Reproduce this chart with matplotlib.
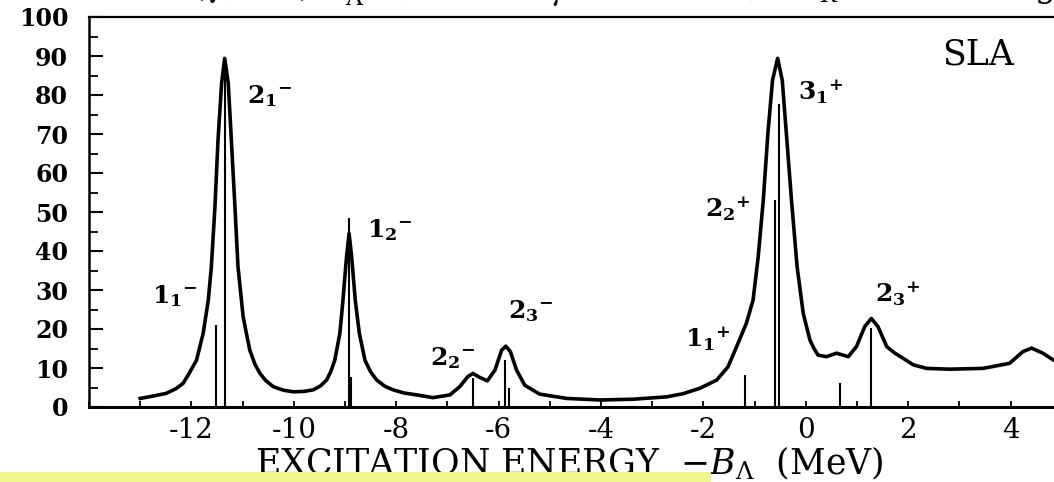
#!/usr/bin/env python3
# -*- coding: utf-8 -*-

import matplotlib
matplotlib.use("Agg")
import matplotlib.pyplot as plt
from matplotlib.patches import Rectangle
from matplotlib.ticker import MultipleLocator, FixedLocator

# --- spectre (MeV, unités arbitraires) ---
energy = [-13.0, -12.75, -12.49, -12.30, -12.16, -12.05, -11.90, -11.77, -11.67,
          -11.61, -11.54, -11.48, -11.41, -11.35, -11.28, -11.22, -11.15, -11.09,
          -10.99, -10.92, -10.86, -10.76, -10.66, -10.55, -10.40, -10.20, -10.01,
          -9.80, -9.62, -9.48, -9.36, -9.28, -9.20, -9.10, -9.04, -8.97, -8.92,
          -8.87, -8.80, -8.72, -8.61, -8.50, -8.38, -8.22, -8.06, -7.85, -7.60,
          -7.28, -6.95, -6.76, -6.60, -6.50, -6.37, -6.22, -6.07, -5.94, -5.86,
          -5.77, -5.65, -5.49, -5.20, -4.67, -4.02, -3.37, -2.72, -2.40, -2.07,
          -1.74, -1.52, -1.35, -1.16, -1.03, -0.93, -0.83, -0.74, -0.65, -0.55,
          -0.46, -0.38, -0.28, -0.17, -0.05, 0.08, 0.16, 0.24, 0.40, 0.60, 0.83,
          0.99, 1.15, 1.28, 1.41, 1.58, 1.74, 1.90, 2.10, 2.36, 2.81, 3.46, 3.98,
          4.24, 4.41, 4.63, 4.84, 5.0]
spectrum = [2.2, 2.8, 3.5, 4.7, 6.1, 8.5, 12.0, 18.9, 27.4,
            36.0, 51.4, 68.5, 83.0, 89.4, 83.0, 68.5, 51.4, 36.0,
            23.2, 18.5, 14.6, 11.0, 8.6, 6.8, 5.2, 4.3, 3.9,
            4.0, 4.4, 5.4, 6.9, 9.0, 12.0, 18.9, 27.4, 38.5, 44.5,
            38.5, 27.4, 18.9, 12.0, 9.0, 6.9, 5.3, 4.4, 3.6, 3.1,
            2.4, 3.1, 5.2, 7.8, 8.6, 7.6, 6.7, 9.5, 14.6, 15.6,
            14.2, 9.5, 5.6, 3.3, 2.2, 1.8, 2.0, 2.6, 3.4, 4.8,
            6.9, 10.3, 15.5, 21.5, 27.4, 38.5, 53.1, 70.2, 83.8, 89.4,
            83.8, 70.2, 53.1, 36.0, 24.0, 17.2, 15.0, 13.3, 12.9, 13.8, 12.9,
            15.5, 20.6, 22.7, 20.6, 15.5, 13.8, 12.5, 10.8, 9.9, 9.7, 9.9, 11.2,
            14.2, 15.1, 13.8, 12.0, 11.5]

# --- raies (états individuels) ---
line_E = [-11.51, -11.35, -8.92, -8.88, -6.50, -5.87, -5.80, -1.19, -0.61, -0.52, 0.66, 1.28]
line_h = [21.0, 86.0, 48.5, 7.7, 7.4, 12.0, 5.0, 8.2, 53.2, 77.7, 6.2, 20.2]

# --- graduations x étiquetées ---
xticks = [-12, -10, -8, -6, -4, -2, 0, 2, 4]

# --- étiquettes des états ---
state_names = [r"$\mathbf{1_1}^{\mathbf{-}}$", r"$\mathbf{2_1}^{\mathbf{-}}$",
               r"$\mathbf{1_2}^{\mathbf{-}}$", r"$\mathbf{2_2}^{\mathbf{-}}$",
               r"$\mathbf{2_3}^{\mathbf{-}}$", r"$\mathbf{1_1}^{\mathbf{+}}$",
               r"$\mathbf{2_2}^{\mathbf{+}}$", r"$\mathbf{3_1}^{\mathbf{+}}$",
               r"$\mathbf{2_3}^{\mathbf{+}}$"]
state_xy = [(-12.77, 26.7), (-10.92, 78.0), (-8.57, 43.6), (-7.34, 10.8), (-5.82, 22.8),
            (-2.36, 15.4), (-1.97, 48.7), (-0.16, 78.7), (1.35, 26.9)]

plt.rcParams["font.family"] = "DejaVu Serif"
plt.rcParams["mathtext.fontset"] = "dejavuserif"
plt.rcParams["axes.unicode_minus"] = False

W, H = 1054, 482
fig = plt.figure(figsize=(W / 100, H / 100), dpi=100)
# axe x : 0 MeV à 806 px, 51.2 px/MeV ; axe y : 0 à 407 px, 3.9 px/unité
x0, x1 = -14.0, 5.0
ax = fig.add_axes([89 / W, (H - 407) / H, (x1 - x0) * 51.2 / W, 390 / H])

ax.plot(energy, spectrum, color="black", lw=2.6, solid_joinstyle="round", zorder=3)
ax.vlines(line_E, 0, line_h, color="black", lw=1.5, zorder=2)

for name, (xe, yv) in zip(state_names, state_xy):
    ax.text(xe, yv, name, fontsize=18, ha="left", va="baseline")
ax.text(2.66, 87.7, "SLA", fontsize=25, ha="left", va="baseline")

ax.set_xlim(x0, x1)
ax.set_ylim(0, 100)
ax.xaxis.set_major_locator(FixedLocator(xticks))
ax.xaxis.set_minor_locator(MultipleLocator(1))
ax.yaxis.set_major_locator(MultipleLocator(10))
ax.yaxis.set_minor_locator(MultipleLocator(5))
ax.tick_params(axis="x", which="both", direction="in", length=4.5, width=1.3,
               labelsize=20, pad=7, top=False)
ax.tick_params(axis="y", which="major", direction="in", length=10, width=1.5,
               labelsize=17, pad=15, right=False)
ax.tick_params(axis="y", which="minor", direction="in", length=6.5, width=1.3, right=False)
for lab in ax.get_yticklabels():
    lab.set_fontweight("bold")

ax.spines["bottom"].set_linewidth(2.2)
ax.spines["left"].set_linewidth(1.8)
ax.spines["top"].set_linewidth(1.6)
ax.spines["right"].set_visible(False)

ax.set_xlabel(r"EXCITATION ENERGY  $-B_{\Lambda}$  (MeV)", fontsize=25, va="baseline")
ax.xaxis.set_label_coords((569 - 89) / ((x1 - x0) * 51.2), -(474 - 407) / 390)

# titre coupé en haut de l'image
ty = 1 + 3 / H
fig.text(135 / W, ty, r"$^{12}$C$(\gamma,K^+)$", fontsize=24, va="baseline")
fig.text(345 / W, ty, r"$^{12}_{\Lambda}$B,", fontsize=24, va="baseline")
fig.text(525 / W, ty, r"$E_\gamma$ = 1.3 GeV,", fontsize=24, va="baseline")
fig.text(800 / W, ty, r"$\theta_K$ =  11.5  deg", fontsize=24, va="baseline")

# bande jaune (surligneur) en bas
fig.patches.append(Rectangle((0, 0), 711 / W, 10 / H, transform=fig.transFigure,
                             facecolor="#f0f68c", edgecolor="none", zorder=10))

fig.savefig("out.png", dpi=100)
